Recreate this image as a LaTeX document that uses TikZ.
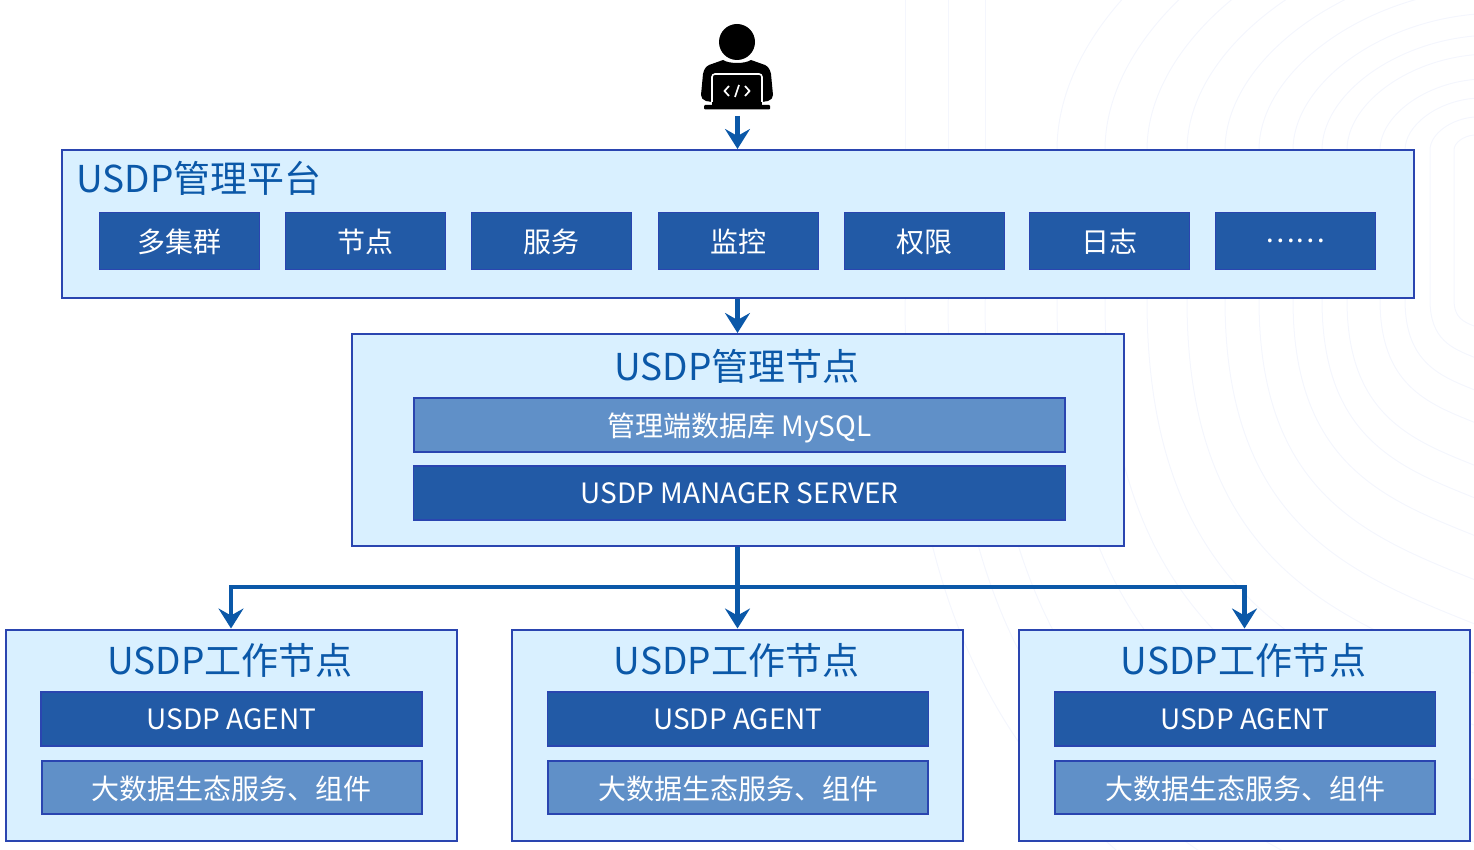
\documentclass[tikz,border=0pt]{standalone}
\usepackage{fontspec}
\setmainfont{Noto Sans CJK SC}
\usetikzlibrary{arrows.meta}
\definecolor{panelfill}{HTML}{D9F0FF}
\definecolor{panelline}{HTML}{2A45B0}
\definecolor{darkbox}{HTML}{225AA6}
\definecolor{lightbox}{HTML}{6090C8}
\definecolor{titleblue}{HTML}{0B58A8}
\definecolor{faint}{HTML}{F4F6FD}
\tikzset{
  panel/.style={draw=panelline,fill=panelfill,line width=2pt,minimum width=#1,inner sep=0pt,anchor=north west},
  dark/.style={draw=panelline,fill=darkbox,line width=1.6pt,text=white,font=\fontsize{28}{30}\selectfont,inner sep=0pt,text depth=0pt},
  lite/.style={draw=panelline,fill=lightbox,line width=2pt,text=white,font=\fontsize{28}{30}\selectfont,inner sep=0pt,text depth=0pt},
  paneltitle/.style={text=titleblue,font=\fontsize{37}{40}\selectfont,inner sep=0pt},
  flow/.style={draw=titleblue,line width=4.5pt,-{Stealth[length=20pt,width=25pt,inset=7pt,sep=0pt]}},
  trunk/.style={draw=titleblue,line width=4.5pt}
}
\begin{document}
\begin{tikzpicture}[x=1pt,y=-1pt]
\useasboundingbox (0,0) rectangle (1474,850);
% faint background contours
\foreach \xa/\xb in {1057/1474,1105/1474,1147/1474,1187/1474,1225/1474,1259/1474,1293/1474,1322/1474,1347/1474,1380/1474,1405/1474,1430/1474,1454/1474}{
  \pgfmathsetmacro{\d}{1474-\xa}
  \draw[faint,line width=1pt] (\xa,300) .. controls (\xa,{300+\d*0.9}) and ({\xa+\d*0.5},{300+\d*1.1}) .. (1474,{300+\d*1.3});
  \draw[faint,line width=1pt] (\xa,300) -- (\xa,150) .. controls (\xa,{150-\d*0.35}) and ({\xa+\d*0.45},{150-\d*0.7}) .. (1474,{150-\d*0.75});
}
\foreach \xa in {985,948,905}{
  \pgfmathsetmacro{\d}{1474-\xa}
  \draw[faint,line width=1pt] (\xa,300) .. controls (\xa,{300+\d*0.9}) and ({\xa+\d*0.5},{300+\d*1.1}) .. (1474,{300+\d*1.3});
  \draw[faint,line width=1pt] (\xa,300) -- (\xa,0);
}
% person icon
\fill[black] (737,42) circle (18);
\fill[black] (723,60) .. controls (729,64) and (745,64) .. (751,60)
  -- (765,65) .. controls (769,67) and (770,70) .. (771,74)
  -- (773,95) .. controls (773,98) and (771,100) .. (768,101)
  -- (762,102) -- (712,102) -- (706,101) .. controls (703,100) and (701,98) .. (701,95)
  -- (703,74) .. controls (704,70) and (705,67) .. (709,65) -- cycle;
\draw[white,line width=1.6pt,rounded corners=3pt] (712,103) -- (712,74) -- (762,74) -- (762,103);
\fill[black,rounded corners=1pt] (704,105) rectangle (770,109.5);
\fill[black] (712,102) rectangle (762,106);
\draw[white,line width=1.7pt,line join=miter] (729,86) -- (724.5,91) -- (729,96);
\draw[white,line width=1.7pt,line join=miter] (745,86) -- (749.5,91) -- (745,96);
\draw[white,line width=1.7pt] (739,85) -- (735,97);
\coordinate (user) at (737.5,116);
% top panel
\node[panel=1352pt,minimum height=148pt] (platform) at (61,149) {};
\node[paneltitle,anchor=base west] (platformT) at (76,193) {USDP管理平台};
\foreach \nm/\xc/\tx in {a/179.5/多集群,b/365.5/节点,c/551.5/服务,d/738.5/监控,e/924.5/权限,f/1109.5/日志,g/1295.5/……}{
  \node[dark,minimum width=160pt,minimum height=57pt] (p\nm) at (\xc,241) {\tx};
}
% manager panel
\node[panel=772pt,minimum height=212pt] (manager) at (351,333) {};
\node[paneltitle] (managerT) at (737,366) {USDP管理节点};
\node[lite,minimum width=651pt,minimum height=54pt] (db) at (739.5,424.5) {管理端数据库 MySQL};
\node[dark,minimum width=652pt,minimum height=54pt] (server) at (739.5,493) {USDP MANAGER SERVER};
% worker panels
\foreach \nm/\xl/\xc in {w1/5/231,w2/511/737.5,w3/1018/1244.5}{
  \node[panel=450.5pt,minimum height=211pt] (\nm) at (\xl,628.5) {};
  \node[paneltitle] (\nm T) at (\xc-1,660) {USDP工作节点};
  \node[dark,minimum width=381pt,minimum height=54pt] (\nm a) at (\xc+.5,719) {USDP AGENT};
  \node[lite,minimum width=380pt,minimum height=53pt] (\nm b) at (\xc+.5,787.5) {大数据生态服务、组件};
}
% connectors
\coordinate (hub) at (737.5,587);
\draw[flow] (user) -- (platform.north -| user);
\draw[flow] (platform.south -| user) -- (manager.north -| user);
\draw[trunk] (manager.south -| hub) -- (hub);
\draw[flow] (hub) -- (w2.north -| hub);
\draw[flow,rounded corners=0pt] (hub) -| (w1.north -| 231,0);
\draw[flow] (hub) -| (w3.north -| 1244.5,0);
\end{tikzpicture}
\end{document}
